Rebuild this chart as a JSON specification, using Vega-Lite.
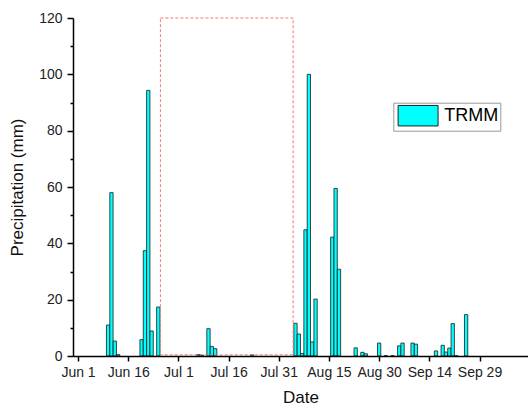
{
  "$schema": "https://vega.github.io/schema/vega-lite/v6.json",
  "width": 455,
  "height": 338,
  "autosize": "none",
  "padding": {"left": 73, "top": 18, "right": 0, "bottom": 54},
  "config": {
    "view": {"stroke": null, "fill": null},
    "font": "Liberation Sans",
    "axis": {
      "domainColor": "#000000",
      "domainWidth": 1.5,
      "tickColor": "#000000",
      "tickWidth": 1.5,
      "grid": false
    }
  },
  "layer": [
    {
      "layer": [
        {
          "data": {
            "values": [
              {"date": "2013-06-10T00:00", "precip": 11},
              {"date": "2013-06-11T00:00", "precip": 58},
              {"date": "2013-06-12T00:00", "precip": 5.3},
              {"date": "2013-06-13T00:00", "precip": 0.5},
              {"date": "2013-06-20T00:00", "precip": 5.8},
              {"date": "2013-06-21T00:00", "precip": 37.4},
              {"date": "2013-06-22T00:00", "precip": 94.3},
              {"date": "2013-06-23T00:00", "precip": 8.9},
              {"date": "2013-06-25T00:00", "precip": 17.4},
              {"date": "2013-07-07T00:00", "precip": 0.5},
              {"date": "2013-07-08T00:00", "precip": 0.3},
              {"date": "2013-07-10T00:00", "precip": 9.7},
              {"date": "2013-07-11T00:00", "precip": 3.4},
              {"date": "2013-07-12T00:00", "precip": 2.6},
              {"date": "2013-07-23T00:00", "precip": 0.4},
              {"date": "2013-08-05T00:00", "precip": 11.6},
              {"date": "2013-08-06T00:00", "precip": 7.8},
              {"date": "2013-08-07T00:00", "precip": 0.9},
              {"date": "2013-08-08T00:00", "precip": 44.8},
              {"date": "2013-08-09T00:00", "precip": 100},
              {"date": "2013-08-10T00:00", "precip": 5},
              {"date": "2013-08-11T00:00", "precip": 20.2},
              {"date": "2013-08-16T00:00", "precip": 42.2},
              {"date": "2013-08-17T00:00", "precip": 59.5},
              {"date": "2013-08-18T00:00", "precip": 30.8},
              {"date": "2013-08-23T00:00", "precip": 2.9},
              {"date": "2013-08-25T00:00", "precip": 1.3},
              {"date": "2013-08-26T00:00", "precip": 0.8},
              {"date": "2013-08-30T00:00", "precip": 4.6},
              {"date": "2013-09-01T00:00", "precip": 0.1},
              {"date": "2013-09-03T00:00", "precip": 0.1},
              {"date": "2013-09-05T00:00", "precip": 3.6},
              {"date": "2013-09-06T00:00", "precip": 4.6},
              {"date": "2013-09-09T00:00", "precip": 4.6},
              {"date": "2013-09-10T00:00", "precip": 4.2},
              {"date": "2013-09-16T00:00", "precip": 1.8},
              {"date": "2013-09-18T00:00", "precip": 3.8},
              {"date": "2013-09-19T00:00", "precip": 1.4},
              {"date": "2013-09-20T00:00", "precip": 2.8},
              {"date": "2013-09-21T00:00", "precip": 11.5},
              {"date": "2013-09-22T00:00", "precip": 0.1},
              {"date": "2013-09-25T00:00", "precip": 14.7}
            ]
          },
          "mark": {"type": "bar", "size": 3.3, "stroke": "#1a1a1a", "strokeWidth": 0.8},
          "encoding": {
            "x": {
              "field": "date",
              "type": "temporal",
              "scale": {"domain": [{"year": 2013, "month": 6, "date": 1}, {"year": 2013, "month": 10, "date": 12}]},
              "axis": {
                "title": "Date",
                "format": "%b %-d",
                "values": [
                  {"year": 2013, "month": 6, "date": 1},
                  {"year": 2013, "month": 6, "date": 16},
                  {"year": 2013, "month": 7, "date": 1},
                  {"year": 2013, "month": 7, "date": 16},
                  {"year": 2013, "month": 7, "date": 31},
                  {"year": 2013, "month": 8, "date": 15},
                  {"year": 2013, "month": 8, "date": 30},
                  {"year": 2013, "month": 9, "date": 14},
                  {"year": 2013, "month": 9, "date": 29}
                ],
                "zindex": 2,
                "grid": false,
                "domain": true,
                "ticks": true,
                "domainColor": "#000000",
                "domainWidth": 1.5,
                "domainOpacity": 1,
                "tickColor": "#000000",
                "tickWidth": 1.5,
                "tickOpacity": 1,
                "tickSize": 5,
                "labelFont": "Liberation Sans",
                "labelFontSize": 14,
                "labelColor": "#222222",
                "labelPadding": 4,
                "labelFlush": false,
                "labelOverlap": false,
                "titleFont": "Liberation Sans",
                "titleFontSize": 17,
                "titleFontWeight": "normal",
                "titleColor": "#111111",
                "titlePadding": 10
              }
            },
            "y": {
              "field": "precip",
              "type": "quantitative",
              "scale": {"domain": [0, 120], "nice": false},
              "axis": {
                "title": "Precipitation (mm)",
                "orient": "left",
                "values": [0, 20, 40, 60, 80, 100, 120],
                "zindex": 2,
                "grid": false,
                "domain": true,
                "ticks": true,
                "domainColor": "#000000",
                "domainWidth": 1.5,
                "domainOpacity": 1,
                "tickColor": "#000000",
                "tickWidth": 1.5,
                "tickOpacity": 1,
                "tickSize": 6,
                "labelFont": "Liberation Sans",
                "labelFontSize": 14,
                "labelColor": "#222222",
                "labelPadding": 5,
                "titleFont": "Liberation Sans",
                "titleFontSize": 17,
                "titleFontWeight": "normal",
                "titleColor": "#111111",
                "titlePadding": 12
              }
            },
            "fill": {
              "datum": "TRMM",
              "type": "nominal",
              "scale": {"range": ["#00ffff"]},
              "legend": {
                "orient": "none",
                "legendX": 320.3,
                "legendY": 84.7,
                "title": null,
                "symbolType": "M-0.8,-1H3.1V1H-0.8Z",
                "symbolSize": 420,
                "symbolStrokeColor": "#222222",
                "symbolStrokeWidth": 1,
                "labelFont": "Liberation Sans",
                "labelFontSize": 18,
                "labelColor": "#000000",
                "labelOffset": 27,
                "labelExpr": "datum.label + ' '",
                "padding": 2,
                "strokeColor": "#999999",
                "fillColor": "#ffffff"
              }
            }
          }
        },
        {
          "data": {
            "values": [
              {"start": "2013-06-25T15:00", "end": "2013-08-04T07:00", "low": 0.4, "high": 120}
            ]
          },
          "mark": {"type": "rect", "fill": null, "stroke": "#f07878", "strokeWidth": 1, "strokeDash": [3, 2]},
          "encoding": {
            "x": {"field": "start", "type": "temporal"},
            "x2": {"field": "end"},
            "y": {"field": "low", "type": "quantitative"},
            "y2": {"field": "high"}
          }
        }
      ]
    },
    {
      "data": {"values": [{"v": 0}]},
      "mark": {"type": "point", "opacity": 0},
      "encoding": {
        "y": {
          "field": "v",
          "type": "quantitative",
          "scale": {"domain": [0, 120], "nice": false},
          "axis": {
            "orient": "left",
            "title": null,
            "values": [10, 30, 50, 70, 90, 110],
            "labels": false,
            "domain": false,
            "ticks": true,
            "zindex": 2,
            "grid": false,
            "tickColor": "#000000",
            "tickWidth": 1.5,
            "tickOpacity": 1,
            "tickSize": 3
          }
        }
      }
    }
  ],
  "resolve": {"axis": {"y": "independent"}}
}
